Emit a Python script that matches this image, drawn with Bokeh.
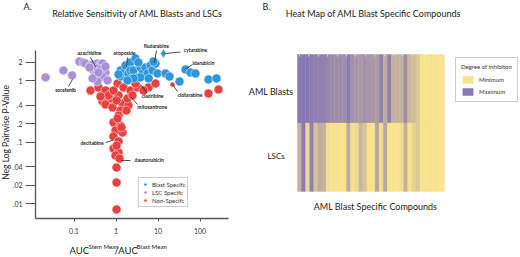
import math
from bokeh.plotting import figure
from bokeh.models import (Range1d, FixedTicker, Label, LabelSet, Legend, LegendItem,
                          ColumnDataSource, LinearColorMapper)
from bokeh.layouts import row
from bokeh.transform import transform
from bokeh.core.properties import value
from bokeh.embed import file_html
from bokeh.resources import INLINE

FONT = "Lato"

# ---------------- Panel A data (AUC ratio vs p-value) ----------------
blast_x = [1.28, 1.28, 1.59, 1.68, 1.98, 2.21, 2.21, 2.61, 2.91, 3.25, 3.83, 4.27, 5.04, 5.62, 6.63,
           7.40, 8.72, 9.73, 3.83, 6.0, 2.61, 1.88, 1.15, 7.81, 3.4, 15.1, 18.8, 32.5, 45.2, 59.4,
           78.1, 159, 247]
blast_y = [1.47, 1.17, 1.36, 1.77, 1.31, 1.98, 1.47, 1.47, 2.30, 1.13, 1.64, 1.31, 1.64, 1.31, 1.77,
           1.47, 1.90, 1.31, 1.13, 1.09, 1.09, 1.01, 1.26, 2.05, 1.98, 1.31, 1.17, 0.97, 1.52, 1.36,
           1.31, 1.05, 1.09]
cytarabine_x = [13.5]
cytarabine_y = [2.77]

lsc_x = [0.021, 0.056, 0.090, 0.135, 0.168, 0.188, 0.247, 0.291, 0.363, 0.428, 0.477, 0.291,
         0.363, 0.428, 0.562, 0.325, 0.428, 0.477, 0.628, 0.363, 0.276, 0.234, 0.562, 0.383]
lsc_y = [1.13, 1.47, 1.22, 2.05, 1.98, 1.90, 1.77, 1.83, 1.90, 1.83, 1.90, 1.47,
         1.58, 1.52, 1.36, 1.22, 1.13, 1.17, 1.01, 0.97, 1.09, 1.64, 1.70, 1.36]

non_x = [0.247, 0.383, 0.562, 0.477, 0.740, 0.562, 0.826, 1.09, 1.51, 1.15, 2.21, 3.25, 1.43, 1.98,
         1.88, 2.47, 5.94, 8.72, 159, 276, 0.663, 0.872, 1.28, 1.03, 0.428, 2.91, 4.52, 1.15, 0.872,
         1.28, 0.973, 1.43, 0.872, 1.15, 0.872, 1.15, 0.973, 1.21, 1.03, 1.03, 1.03, 1.78, 1.09,
         1.03, 1.35]
non_y = [0.693, 0.775, 0.693, 0.459, 0.514, 0.41, 0.367, 0.90, 0.775, 0.575, 0.693, 0.775, 0.426,
         0.395, 0.514, 0.575, 0.775, 0.90, 0.619, 0.719, 0.575, 0.693, 0.327, 0.477, 0.554, 0.90,
         0.693, 0.272, 0.209, 0.187, 0.155, 0.144, 0.124, 0.103, 0.079, 0.068, 0.0608, 0.0543,
         0.0388, 0.0221, 0.00805, 0.327, 0.243, 0.088, 0.175]
clofarabine_x = [22.1]
clofarabine_y = [0.867]

drug_names = ["azacitidine", "etoposide", "fludarabine", "cytarabine", "idarubicin", "sorafenib",
              "cladribine", "clofarabine", "mitoxantrone", "decitabine", "daunorubicin"]
name_x = [0.234, 1.59, 9.12, 78.1, 121, 0.0628, 7.40, 57.8, 7.28, 0.268, 6.17]
name_y = [2.84, 2.87, 3.73, 3.10, 1.95, 0.719, 0.560, 0.590, 0.371, 0.0964, 0.0504]
lead_x0 = [0.247, 1.88, 9.2, 15.1, 66.3, 0.074, 5.47, 22.1, 3.25, 0.562, 1.35]
lead_y0 = [2.38, 2.38, 3.10, 2.77, 1.83, 0.805, 0.631, 0.867, 0.41, 0.0989, 0.0504]
lead_x1 = [0.325, 1.78, 8.26, 34.3, 47.7, 0.092, 4.05, 29.1, 2.34, 0.826, 2.21]
lead_y1 = [1.70, 1.70, 1.98, 2.93, 1.58, 1.05, 0.835, 0.668, 0.533, 0.107, 0.0504]

x_ticks = [0.1, 1, 10, 100]
x_tick_labels = ["0.1", "1", "10", "100"]
y_ticks = [0.01, 0.02, 0.04, 0.1, 0.2, 0.4, 1, 2]
y_tick_labels = [".01", ".02", ".04", ".1", ".2", ".4", "1", "2"]
x_axis_span = (0.01212, 477)      # extent of the drawn x axis
y_axis_span = (0.005744, 3.10)    # extent of the drawn y axis

# ---------------- Panel B data (heat map) ----------------
blast_inhibition = [1.0, 1.0, 1.0, 0.95, 0.92, 0.9, 0.9, 0.85, 0.8, 0.8, 0.8, 0.78, 0.95, 0.75,
                    0.72, 0.7, 0.75, 0.7, 0.68, 0.65, 0.9, 0.5, 0.9, 0.45, 0.45, 0.45, 0.8, 0.4,
                    0.35, 0.25, 0, 0, 0, 0, 0, 0]
lsc_inhibition = [0.45, 0.95, 0.1, 0.9, 0.3, 0.5, 0.45, 0.05, 0, 0, 0, 0, 0.5, 0.05, 0.1, 0.4,
                  0.3, 0, 0, 0.55, 0.05, 0.55, 0, 0, 0, 0.05, 0.45, 0, 0.15, 0.25, 0, 0, 0, 0, 0, 0]
rows = ["AML Blasts", "LSCs"]

BLUE = "#2f95dc"
PURPLE = "#a991d8"
RED = "#e8413f"
AXC = "#555555"
TXT = "#222222"

# ================= Panel A =================
p1 = figure(width=240, height=257, title=None, x_axis_type="log", y_axis_type="log",
            x_range=Range1d(0.001778, 920.5), y_range=Range1d(0.001334, 20.14),
            min_border=0, toolbar_location=None, output_backend="svg")
p1.outline_line_color = None
p1.xgrid.visible = False
p1.ygrid.visible = False

xa = p1.xaxis[0]
ya = p1.yaxis[0]
xa.fixed_location = y_axis_span[0]
xa.bounds = x_axis_span
ya.fixed_location = x_axis_span[0]
ya.bounds = y_axis_span
for ax in (xa, ya):
    ax.axis_line_color = AXC
    ax.axis_line_width = 1.3
    ax.major_tick_line_color = AXC
    ax.major_tick_line_width = 1
    ax.minor_tick_line_color = None
    ax.major_tick_in = 0
    ax.major_label_text_font = FONT
    ax.major_label_text_font_size = "7px"
    ax.major_label_text_color = "#333333"
xa.ticker = FixedTicker(ticks=x_ticks)
xa.major_label_overrides = dict(zip(x_ticks, x_tick_labels))
xa.major_tick_out = 3
xa.major_label_standoff = 6
ya.ticker = FixedTicker(ticks=y_ticks)
ya.major_label_overrides = dict(zip(y_ticks, y_tick_labels))
ya.major_tick_out = 10
ya.major_label_standoff = 3

r_non = p1.scatter(non_x, non_y, size=9, fill_color=RED, line_color="white", line_width=0.5)
p1.scatter(clofarabine_x, clofarabine_y, size=5, fill_color=RED, line_color="white", line_width=0.5)
r_lsc = p1.scatter(lsc_x, lsc_y, size=9, fill_color=PURPLE, line_color="white", line_width=0.5)
r_blast = p1.scatter(blast_x, blast_y, size=9, fill_color=BLUE, line_color="white", line_width=0.5)
p1.scatter(cytarabine_x, cytarabine_y, marker="diamond", size=9, fill_color=BLUE,
           line_color="white", line_width=0.5)

p1.segment(lead_x0, lead_y0, lead_x1, lead_y1, line_color=TXT, line_width=0.8)
names_src = ColumnDataSource(dict(x=name_x, y=name_y, t=drug_names))
p1.add_layout(LabelSet(x="x", y="y", text="t", source=names_src, text_align="center",
                       text_baseline="middle", text_font=value(FONT), text_font_style="bold",
                       text_font_size="5px", text_color=TXT))

leg1 = Legend(items=[LegendItem(label="Blast Specifc", renderers=[r_blast]),
                     LegendItem(label="LSC Specifc", renderers=[r_lsc]),
                     LegendItem(label="Non-Specifc", renderers=[r_non])],
              location=(138, 50), orientation="vertical")
leg1.label_text_font = FONT
leg1.label_text_font_size = "6px"
leg1.label_text_color = "#333333"
leg1.glyph_width = 8
leg1.glyph_height = 8
leg1.label_height = 8
leg1.label_standoff = 3
leg1.spacing = 0
leg1.padding = 2
leg1.margin = 0
leg1.border_line_color = "#999999"
leg1.border_line_width = 1
p1.add_layout(leg1, "center")

p1.add_layout(Label(x=0.00628, y=16.1, text="A.", text_font=FONT, text_font_size="9px",
                    text_baseline="middle", text_color=TXT))
p1.add_layout(Label(x=3.25, y=12.2, text="Relative Sensitivity of AML Blasts and LSCs",
                    text_font=FONT, text_font_size="9px", text_align="center",
                    text_baseline="middle", text_color=TXT))
p1.add_layout(Label(x=0.00234, y=0.144, text="Neg Log Pairwise P-Value", angle=math.pi / 2,
                    text_font=FONT, text_font_size="8.5px", text_align="center",
                    text_baseline="middle", text_color=TXT))
p1.add_layout(Label(x=0.0781, y=0.001702, text="AUC", text_font=FONT, text_font_size="9.5px",
                    text_baseline="middle", text_color=TXT))
p1.add_layout(Label(x=0.2215, y=0.001977, text="Stem Mean", text_font=FONT,
                    text_font_size="6px", text_baseline="middle", text_color=TXT))
p1.add_layout(Label(x=0.921, y=0.001702, text="/AUC", text_font=FONT, text_font_size="9.5px",
                    text_baseline="middle", text_color=TXT))
p1.add_layout(Label(x=3.08, y=0.001977, text="Blast Mean", text_font=FONT,
                    text_font_size="6.2px", text_baseline="middle", text_color=TXT))

# ================= Panel B =================
n = len(blast_inhibition)
p2 = figure(width=280, height=257, title=None, x_range=Range1d(-13.96, 54.61),
            y_range=Range1d(-0.9635, 2.788), min_border=0,
            toolbar_location=None, output_backend="svg")
p2.outline_line_color = None
p2.xgrid.visible = False
p2.ygrid.visible = False
p2.yaxis.visible = False

lo = (248, 228, 140)
hi = (134, 118, 178)
palette = ["#%02x%02x%02x" % tuple(int(round(lo[k] + (hi[k] - lo[k]) * t / 255)) for k in range(3))
           for t in range(256)]
mapper = LinearColorMapper(palette=palette, low=0, high=1)

heat_values = blast_inhibition + lsc_inhibition
heat = ColumnDataSource(dict(
    x=[i + 0.5 for i in range(n)] * 2,
    y=[1.5] * n + [0.5] * n,
    v=heat_values,
))
r_heat = p2.rect(x="x", y="y", width=1, height=1, source=heat,
                 fill_color=transform("v", mapper), line_color=transform("v", mapper),
                 line_width=0.4)

# faint tick marks along the top edge of the heat map
tx = p2.xaxis[0]
tx.fixed_location = 2
tx.bounds = (0, n)
tx.ticker = FixedTicker(ticks=[0.5 + 2.3 * k for k in range(16)])
tx.axis_line_color = None
tx.major_tick_line_color = "#d4d4d4"
tx.major_tick_in = 0
tx.major_tick_out = 2
tx.minor_tick_line_color = None
tx.major_label_text_alpha = 0
tx.major_label_text_font_size = "1px"

i_min = heat_values.index(min(heat_values))
i_max = heat_values.index(max(heat_values))
leg2 = Legend(items=[LegendItem(label="Minimum", renderers=[r_heat], index=i_min),
                     LegendItem(label="Maximum", renderers=[r_heat], index=i_max)],
              location=(215, 155), title="Degree of inhibiton")
leg2.title_text_font = FONT
leg2.title_text_font_size = "6px"
leg2.title_text_font_style = "normal"
leg2.title_text_color = "#333333"
leg2.title_standoff = 5
leg2.label_text_font = FONT
leg2.label_text_font_size = "6px"
leg2.label_text_color = "#333333"
leg2.glyph_width = 13
leg2.glyph_height = 9
leg2.label_height = 9
leg2.label_standoff = 5
leg2.spacing = 3
leg2.padding = 5
leg2.margin = 0
leg2.border_line_color = "#999999"
leg2.border_line_width = 1
p2.add_layout(leg2, "center")

p2.add_layout(Label(x=-8.57, y=2.701, text="B.", text_font=FONT, text_font_size="9px",
                    text_baseline="middle", text_color=TXT))
p2.add_layout(Label(x=18.6, y=2.594, text="Heat Map of AML Blast Specific Compounds",
                    text_font=FONT, text_font_size="9px", text_align="center",
                    text_baseline="middle", text_color=TXT))
p2.add_layout(Label(x=-0.98, y=1.464, text=rows[0], text_font=FONT, text_font_size="9px",
                    text_align="right", text_baseline="middle", text_color=TXT))
p2.add_layout(Label(x=-7.35, y=0.515, text=rows[1], text_font=FONT, text_font_size="8px",
                    text_align="left", text_baseline="middle", text_color=TXT))
p2.add_layout(Label(x=19.1, y=-0.215, text="AML Blast Specific Compounds", text_font=FONT,
                    text_font_size="9px", text_align="center", text_baseline="middle",
                    text_color=TXT))

layout = row(p1, p2)
open("out.html", "w").write(file_html(layout, INLINE))
